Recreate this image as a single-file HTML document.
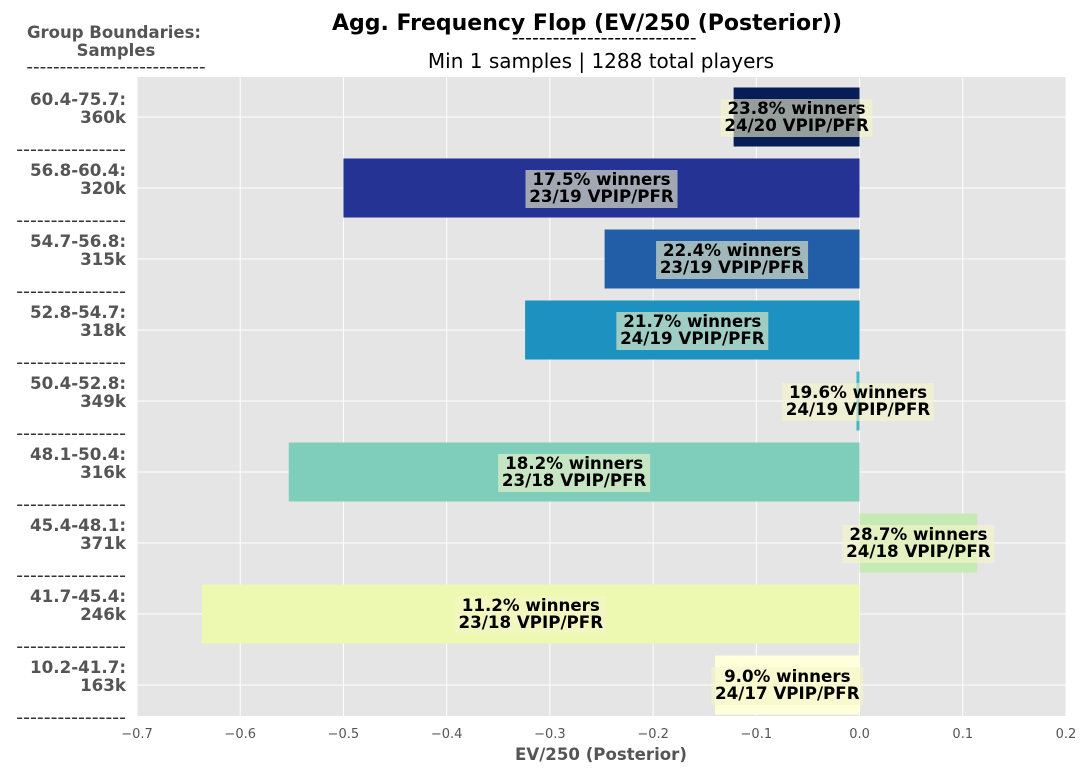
<!DOCTYPE html>
<html><head><meta charset="utf-8"><style>
body{margin:0;background:#fff;font-family:"Liberation Sans","DejaVu Sans",sans-serif}
svg text{font-family:"DejaVu Sans","Liberation Sans",sans-serif}
</style></head><body>
<svg id="chart" width="1085" height="773" xmlns="http://www.w3.org/2000/svg">
<text x="587" y="30" text-anchor="middle" font-size="22" font-weight="bold">Agg. Frequency Flop (EV/250 (Posterior))</text>
<text x="604" y="44" text-anchor="middle" font-size="19">---------------------------</text>
<text x="601" y="68" text-anchor="middle" font-size="20">Min 1 samples | 1288 total players</text>
<text x="114" y="38" text-anchor="middle" font-size="16.5" font-weight="bold" fill="#555">Group Boundaries:</text>
<text x="116" y="56" text-anchor="middle" font-size="16.5" font-weight="bold" fill="#555">Samples</text>
<text x="116" y="73" text-anchor="middle" font-size="18.4" fill="#333">---------------------------</text>
<rect x="137" y="77" width="929" height="639" fill="#e5e5e5"/>
<g id="grid"></g><g id="bars"></g><g id="labels"></g><g id="axes"></g>
<text x="601" y="760" text-anchor="middle" font-size="16.6" font-weight="bold" fill="#555">EV/250 (Posterior)</text>
</svg>
<script>
const groups=["60.4-75.7:","56.8-60.4:","54.7-56.8:","52.8-54.7:","50.4-52.8:","48.1-50.4:","45.4-48.1:","41.7-45.4:","10.2-41.7:"];
const samples=["360k","320k","315k","318k","349k","316k","371k","246k","163k"];
const values=[-0.122,-0.50,-0.247,-0.324,-0.003,-0.553,0.114,-0.637,-0.140];
const winners=["23.8%","17.5%","22.4%","21.7%","19.6%","18.2%","28.7%","11.2%","9.0%"];
const vpip=["24/20","23/19","23/19","24/19","24/19","23/18","24/18","23/18","24/17"];
const xticks=[-0.7,-0.6,-0.5,-0.4,-0.3,-0.2,-0.1,0.0,0.1,0.2];
const colors=["#081d58","#253494","#225ea8","#1d91c0","#41b6c4","#7fcdbb","#c7e9b4","#edf8b1","#ffffd9"];
const NS="http://www.w3.org/2000/svg";
const X0=137,X1=1066,Y0=77,Y1=716,xmin=-0.7,xmax=0.2;
const x=v=>X0+(v-xmin)/(xmax-xmin)*(X1-X0);
const rowH=71;
const yc=i=>117+rowH*i;
function mk(t,a,p){const e=document.createElementNS(NS,t);for(const k in a)e.setAttribute(k,a[k]);p.appendChild(e);return e;}
const G=document.getElementById('grid'),B=document.getElementById('bars'),L=document.getElementById('labels'),A=document.getElementById('axes');
xticks.forEach(t=>{
 const l=mk('line',{x1:x(t),x2:x(t),y1:Y0,y2:Y1,stroke:'#fff','stroke-width':1},G);
 
 
 const tx=mk('text',{x:x(t),y:Y1+22,'text-anchor':'middle','font-size':13,fill:'#555'},A);
 tx.textContent=(t<0?'\u2212':'')+Math.abs(t).toFixed(1);
 
 
});
groups.forEach((g,i)=>{
 const gl=mk('line',{x1:X0,x2:X1,y1:yc(i),y2:yc(i),stroke:'#fff','stroke-width':1},G);
 
 
 const v=values[i],a=x(Math.min(0,v)),b=x(Math.max(0,v));
 const r=mk('rect',{x:a,y:yc(i)-29.5,width:Math.max(b-a,2),height:59,fill:colors[i]},B);
 
 
 const cx=(a+b)/2;
 const bg=mk('rect',{x:cx-76,y:yc(i)-18,width:152,height:38,fill:'#f5f5c8','fill-opacity':0.6},L);
 
 
 const t1=mk('text',{x:cx,y:yc(i)-3,'text-anchor':'middle','font-size':16.7,'font-weight':'bold'},L);
 t1.textContent=winners[i]+' winners';
 
 
 const t2=mk('text',{x:cx,y:yc(i)+14,'text-anchor':'middle','font-size':16.7,'font-weight':'bold'},L);
 t2.textContent=vpip[i]+' VPIP/PFR';
 
 
 const y1=mk('text',{x:126,y:yc(i)-12,'text-anchor':'end','font-size':16.7,'font-weight':'bold',fill:'#555'},A);
 y1.textContent=g;
 
 
 const y2=mk('text',{x:126,y:yc(i)+6,'text-anchor':'end','font-size':16.7,'font-weight':'bold',fill:'#555'},A);
 y2.textContent=samples[i];
 
 
 const d=mk('text',{x:126,y:yc(i)+rowH/2+3,'text-anchor':'end','font-size':19,fill:'#333'},A);
 d.textContent='----------------';
 
 
});
</script>
</body></html>
